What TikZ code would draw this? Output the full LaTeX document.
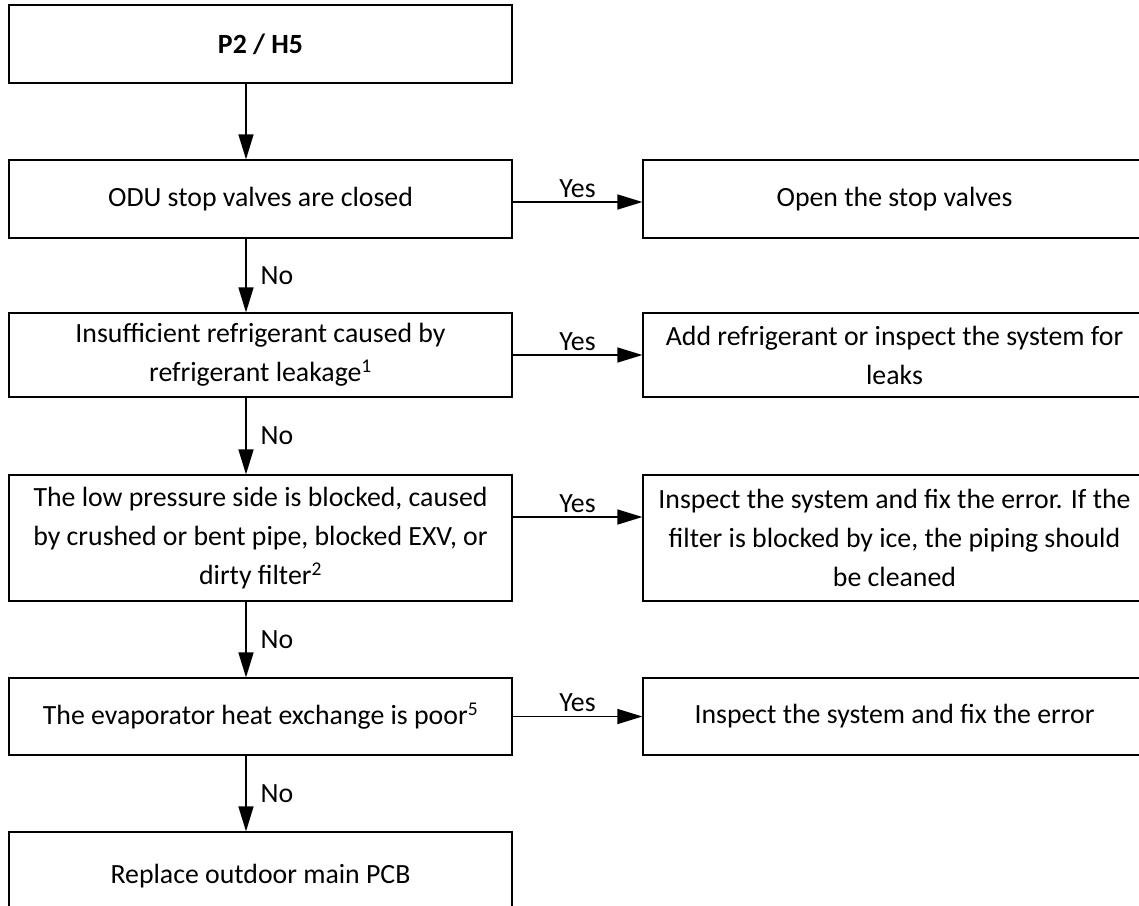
\documentclass[tikz,border=0pt]{standalone}
\usepackage{fontspec}
\setmainfont{Carlito}
\usetikzlibrary{arrows.meta}
\begin{document}
\begin{tikzpicture}[x=1pt,y=-1pt,
    box/.style={draw,line width=1.2pt,minimum width=503pt,minimum height=78pt,align=center,inner sep=0pt,font=\fontsize{27.8}{39}\selectfont},
    arr/.style={line width=1.4pt,-{Triangle[length=25pt,width=15pt]}},
    lbl/.style={font=\fontsize{27.8}{33}\selectfont,inner sep=4pt}]
    \useasboundingbox (0,0) rectangle (1139,905);
    \clip (0,0) rectangle (1139,905);
    % spine of the down arrows
    \coordinate (spine) at (246,0);
    % left column
    \node[box] (code) at (260.5,44) {\textbf{P2 / H5}};
    \node[box] (valve) at (260.5,199) {ODU stop valves are closed};
    \node[box,minimum height=84pt] (leak) at (260.5,355) {Insufficient refrigerant caused by\\refrigerant leakage\textsuperscript{1}};
    \node[box,minimum height=126pt] (block) at (260.5,538) {The low pressure side is blocked, caused\\by crushed or bent pipe, blocked EXV, or\\dirty filter\textsuperscript{2}};
    \node[box,minimum height=77pt] (evap) at (260.5,716.5) {The evaporator heat exchange is poor\textsuperscript{5}};
    \node[box,minimum height=88pt] (pcb) at (260.5,876) {Replace outdoor main PCB};
    % right column
    \node[box] (open) at (894.5,199) {Open the stop valves};
    \node[box,minimum height=84pt] (addref) at (894.5,355) {Add refrigerant or inspect the system for\\leaks};
    \node[box,minimum height=126pt] (fixpipe) at (894.5,538) {Inspect the system and fix the error. If the\\filter is blocked by ice, the piping should\\be cleaned};
    \node[box,minimum height=77pt] (fixerr) at (894.5,716.5) {Inspect the system and fix the error};
    % down arrows
    \draw[arr] (code.south -| spine) -- (valve.north -| spine);
    \draw[arr] (valve.south -| spine) -- node[lbl,right=10pt]{No} (leak.north -| spine);
    \draw[arr] (leak.south -| spine) -- node[lbl,right=10pt]{No} (block.north -| spine);
    \draw[arr] (block.south -| spine) -- node[lbl,right=10pt]{No} (evap.north -| spine);
    \draw[arr] (evap.south -| spine) -- node[lbl,right=10pt]{No} (pcb.north -| spine);
    % yes arrows
    \draw[arr] ([yshift=-3pt]valve.east) -- node[lbl,above]{Yes} ([yshift=-3pt]open.west);
    \draw[arr] (leak.east) -- node[lbl,above]{Yes} (addref.west);
    \draw[arr] ([yshift=21pt]block.east) -- node[lbl,above]{Yes} ([yshift=21pt]fixpipe.west);
    \draw[arr] (evap.east) -- node[lbl,above]{Yes} (fixerr.west);
\end{tikzpicture}
\end{document}
